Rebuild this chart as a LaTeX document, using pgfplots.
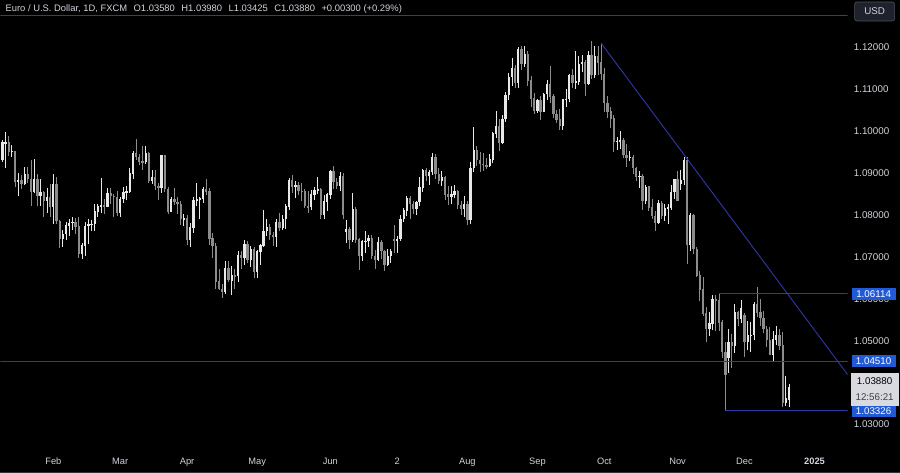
\documentclass[border=0pt]{standalone}
\usepackage{pgfplots}
\usepackage{pgfplotstable}
\usepackage{fontspec}
\setmainfont{Liberation Sans}
\pgfplotsset{compat=1.18}
\definecolor{navy}{RGB}{48,56,165}
\definecolor{tvblue}{RGB}{33,90,215}
\definecolor{txt}{HTML}{D1D4DC}
\definecolor{upc}{HTML}{E8E8E8}
\definecolor{dnc}{HTML}{8C8C8C}
\definecolor{lbox}{HTML}{D8DADF}
\definecolor{usdfill}{HTML}{1E222D}
\definecolor{usdborder}{HTML}{50535E}

\pgfplotstableread{
i O H L C
1 1.0949 1.0965 1.0916 1.0930
2 1.0930 1.0978 1.0925 1.0972
3 1.0972 1.0998 1.0911 1.0972
4 1.0972 1.0988 1.0940 1.0951
5 1.0951 1.0967 1.0937 1.0951
6 1.0951 1.0952 1.0866 1.0878
7 1.0878 1.0900 1.0844 1.0883
8 1.0883 1.0895 1.0862 1.0874
9 1.0874 1.0915 1.0870 1.0897
10 1.0897 1.0915 1.0876 1.0885
11 1.0885 1.0930 1.0822 1.0855
12 1.0855 1.0932 1.0852 1.0884
13 1.0884 1.0897 1.0821 1.0846
14 1.0846 1.0886 1.0822 1.0854
15 1.0854 1.0856 1.0795 1.0834
16 1.0834 1.0864 1.0804 1.0843
17 1.0843 1.0874 1.0795 1.0818
18 1.0818 1.0897 1.0779 1.0873
19 1.0873 1.0889 1.0777 1.0785
20 1.0785 1.0787 1.0722 1.0742
21 1.0742 1.0765 1.0723 1.0755
22 1.0755 1.0783 1.0740 1.0775
23 1.0775 1.0790 1.0749 1.0781
24 1.0781 1.0794 1.0763 1.0783
25 1.0783 1.0793 1.0755 1.0772
26 1.0772 1.0795 1.0697 1.0708
27 1.0708 1.0734 1.0695 1.0727
28 1.0727 1.0783 1.0701 1.0773
29 1.0773 1.0789 1.0730 1.0777
30 1.0777 1.0788 1.0761 1.0778
31 1.0778 1.0825 1.0762 1.0808
32 1.0808 1.0827 1.0794 1.0821
33 1.0821 1.0888 1.0804 1.0822
34 1.0822 1.0838 1.0801 1.0820
35 1.0820 1.0865 1.0818 1.0852
36 1.0852 1.0865 1.0826 1.0845
37 1.0845 1.0849 1.0796 1.0843
38 1.0843 1.0856 1.0796 1.0805
39 1.0805 1.0843 1.0796 1.0838
40 1.0838 1.0866 1.0828 1.0855
41 1.0855 1.0868 1.0836 1.0856
42 1.0856 1.0911 1.0851 1.0899
43 1.0899 1.0951 1.0886 1.0947
44 1.0947 1.0981 1.0931 1.0938
45 1.0938 1.0946 1.0918 1.0927
46 1.0927 1.0963 1.0908 1.0926
47 1.0926 1.0964 1.0922 1.0947
48 1.0947 1.0950 1.0875 1.0881
49 1.0881 1.0907 1.0873 1.0890
50 1.0890 1.0907 1.0858 1.0869
51 1.0869 1.0875 1.0835 1.0865
52 1.0865 1.0943 1.0851 1.0941
53 1.0941 1.0942 1.0855 1.0862
54 1.0862 1.0866 1.0801 1.0807
55 1.0807 1.0843 1.0806 1.0837
56 1.0837 1.0864 1.0823 1.0831
57 1.0831 1.0843 1.0802 1.0826
58 1.0826 1.0833 1.0776 1.0790
59 1.0790 1.0803 1.0773 1.0791
60 1.0791 1.0800 1.0728 1.0741
61 1.0741 1.0781 1.0724 1.0770
62 1.0770 1.0842 1.0757 1.0835
63 1.0835 1.0876 1.0822 1.0837
64 1.0837 1.0842 1.0791 1.0839
65 1.0839 1.0866 1.0828 1.0860
66 1.0860 1.0885 1.0846 1.0856
67 1.0856 1.0864 1.0728 1.0744
68 1.0744 1.0756 1.0698 1.0726
69 1.0726 1.0732 1.0623 1.0641
70 1.0641 1.0672 1.0621 1.0623
71 1.0623 1.0634 1.0601 1.0617
72 1.0617 1.0690 1.0612 1.0672
73 1.0672 1.0690 1.0640 1.0644
74 1.0644 1.0678 1.0610 1.0655
75 1.0655 1.0670 1.0624 1.0654
76 1.0654 1.0713 1.0639 1.0703
77 1.0703 1.0715 1.0671 1.0697
78 1.0697 1.0740 1.0680 1.0731
79 1.0731 1.0737 1.0685 1.0692
80 1.0692 1.0726 1.0676 1.0719
81 1.0719 1.0723 1.0650 1.0665
82 1.0665 1.0716 1.0650 1.0713
83 1.0713 1.0731 1.0680 1.0727
84 1.0727 1.0812 1.0724 1.0761
85 1.0761 1.0790 1.0750 1.0771
86 1.0771 1.0779 1.0739 1.0752
87 1.0752 1.0758 1.0725 1.0748
88 1.0748 1.0790 1.0724 1.0783
89 1.0783 1.0804 1.0761 1.0770
90 1.0770 1.0800 1.0763 1.0790
91 1.0790 1.0825 1.0766 1.0820
92 1.0820 1.0887 1.0812 1.0882
93 1.0882 1.0895 1.0853 1.0866
94 1.0866 1.0880 1.0840 1.0870
95 1.0870 1.0879 1.0847 1.0857
96 1.0857 1.0875 1.0832 1.0856
97 1.0856 1.0862 1.0816 1.0821
98 1.0821 1.0857 1.0804 1.0818
99 1.0818 1.0859 1.0811 1.0848
100 1.0848 1.0866 1.0835 1.0858
101 1.0858 1.0889 1.0849 1.0860
102 1.0860 1.0865 1.0790 1.0801
103 1.0801 1.0847 1.0789 1.0832
104 1.0832 1.0852 1.0808 1.0848
105 1.0848 1.0907 1.0838 1.0903
106 1.0903 1.0916 1.0862 1.0878
107 1.0878 1.0888 1.0861 1.0869
108 1.0869 1.0902 1.0857 1.0892
109 1.0892 1.0900 1.0791 1.0801
110 1.0760 1.0787 1.0732 1.0765
111 1.0765 1.0770 1.0718 1.0740
112 1.0740 1.0852 1.0735 1.0813
113 1.0813 1.0818 1.0734 1.0741
114 1.0741 1.0745 1.0668 1.0703
115 1.0703 1.0741 1.0690 1.0738
116 1.0738 1.0762 1.0710 1.0738
117 1.0738 1.0752 1.0723 1.0745
118 1.0745 1.0753 1.0695 1.0702
119 1.0702 1.0716 1.0671 1.0693
120 1.0693 1.0747 1.0690 1.0734
121 1.0734 1.0740 1.0695 1.0714
122 1.0714 1.0717 1.0667 1.0681
123 1.0681 1.0718 1.0677 1.0702
124 1.0702 1.0719 1.0686 1.0713
125 1.0742 1.0776 1.0709 1.0739
126 1.0739 1.0750 1.0709 1.0742
127 1.0742 1.0799 1.0737 1.0790
128 1.0790 1.0817 1.0782 1.0810
129 1.0810 1.0845 1.0797 1.0840
130 1.0840 1.0845 1.0790 1.0826
131 1.0826 1.0833 1.0802 1.0815
132 1.0815 1.0832 1.0800 1.0830
133 1.0830 1.0889 1.0822 1.0865
134 1.0865 1.0910 1.0855 1.0907
135 1.0907 1.0911 1.0880 1.0892
136 1.0892 1.0906 1.0872 1.0902
137 1.0902 1.0948 1.0895 1.0938
138 1.0938 1.0946 1.0885 1.0897
139 1.0897 1.0911 1.0873 1.0881
140 1.0881 1.0904 1.0869 1.0890
141 1.0890 1.0893 1.0836 1.0848
142 1.0848 1.0868 1.0824 1.0842
143 1.0842 1.0868 1.0826 1.0848
144 1.0848 1.0871 1.0840 1.0857
145 1.0857 1.0858 1.0814 1.0823
146 1.0823 1.0834 1.0800 1.0815
147 1.0815 1.0844 1.0796 1.0825
148 1.0825 1.0832 1.0776 1.0789
149 1.0789 1.0926 1.0779 1.0911
150 1.0911 1.1009 1.0901 1.0955
151 1.0955 1.0965 1.0917 1.0930
152 1.0930 1.0950 1.0902 1.0921
153 1.0921 1.0947 1.0904 1.0919
154 1.0919 1.0935 1.0910 1.0916
155 1.0916 1.0944 1.0915 1.0932
156 1.0932 1.0998 1.0924 1.0994
157 1.0994 1.1048 1.0982 1.1012
158 1.1012 1.1029 1.0951 1.0971
159 1.0971 1.1038 1.0968 1.1028
160 1.1028 1.1092 1.1022 1.1085
161 1.1085 1.1137 1.1074 1.1128
162 1.1128 1.1174 1.1106 1.1150
163 1.1150 1.1156 1.1103 1.1115
164 1.1115 1.1201 1.1102 1.1194
165 1.1194 1.1202 1.1146 1.1161
166 1.1161 1.1202 1.1153 1.1183
167 1.1183 1.1190 1.1107 1.1120
168 1.1120 1.1131 1.1057 1.1077
169 1.1077 1.1090 1.1040 1.1048
170 1.1048 1.1075 1.1043 1.1072
171 1.1072 1.1083 1.1026 1.1045
172 1.1045 1.1090 1.1044 1.1088
173 1.1088 1.1121 1.1074 1.1111
174 1.1111 1.1155 1.1066 1.1082
175 1.1082 1.1087 1.1030 1.1040
176 1.1040 1.1050 1.1018 1.1027
177 1.1027 1.1053 1.1002 1.1011
178 1.1011 1.1076 1.1002 1.1075
179 1.1075 1.1101 1.1058 1.1076
180 1.1076 1.1136 1.1070 1.1132
181 1.1132 1.1147 1.1102 1.1115
182 1.1115 1.1190 1.1100 1.1118
183 1.1118 1.1179 1.1110 1.1160
184 1.1160 1.1180 1.1140 1.1164
185 1.1164 1.1168 1.1083 1.1113
186 1.1113 1.1190 1.1109 1.1180
187 1.1180 1.1214 1.1123 1.1134
188 1.1134 1.1203 1.1125 1.1177
189 1.1177 1.1202 1.1133 1.1163
190 1.1163 1.1209 1.1121 1.1135
191 1.1135 1.1151 1.1044 1.1066
192 1.1066 1.1083 1.1031 1.1046
193 1.1046 1.1058 1.1007 1.1030
194 1.1030 1.1039 1.0950 1.0975
195 1.0975 1.0985 1.0955 1.0976
196 1.0976 1.0999 1.0957 1.0978
197 1.0978 1.0982 1.0936 1.0942
198 1.0942 1.0970 1.0915 1.0937
199 1.0937 1.0952 1.0928 1.0938
200 1.0938 1.0943 1.0898 1.0911
201 1.0911 1.0915 1.0880 1.0891
202 1.0891 1.0905 1.0865 1.0893
203 1.0893 1.0898 1.0811 1.0833
204 1.0833 1.0871 1.0825 1.0867
205 1.0867 1.0868 1.0810 1.0817
206 1.0817 1.0838 1.0791 1.0797
207 1.0797 1.0808 1.0761 1.0781
208 1.0781 1.0836 1.0777 1.0828
209 1.0828 1.0834 1.0791 1.0797
210 1.0797 1.0826 1.0786 1.0815
211 1.0815 1.0827 1.0779 1.0817
212 1.0817 1.0870 1.0811 1.0855
213 1.0855 1.0885 1.0838 1.0884
214 1.0884 1.0905 1.0832 1.0834
215 1.0875 1.0906 1.0860 1.0883
216 1.0883 1.0937 1.0870 1.0931
217 1.0931 1.0937 1.0682 1.0729
218 1.0729 1.0805 1.0714 1.0800
219 1.0800 1.0801 1.0707 1.0718
220 1.0718 1.0724 1.0652 1.0655
221 1.0655 1.0667 1.0595 1.0622
222 1.0622 1.0653 1.0560 1.0565
223 1.0565 1.0580 1.0497 1.0529
224 1.0529 1.0568 1.0510 1.0541
225 1.0541 1.0609 1.0525 1.0598
226 1.0598 1.0609 1.0524 1.0597
227 1.0597 1.0611 1.0522 1.0543
228 1.0543 1.0549 1.0459 1.0473
229 1.0473 1.0497 1.0333 1.0418
230 1.0460 1.0528 1.0423 1.0496
231 1.0496 1.0515 1.0436 1.0489
232 1.0489 1.0587 1.0470 1.0568
233 1.0568 1.0571 1.0534 1.0552
234 1.0552 1.0596 1.0542 1.0577
235 1.0560 1.0566 1.0460 1.0498
236 1.0498 1.0546 1.0479 1.0512
237 1.0512 1.0544 1.0472 1.0513
238 1.0513 1.0593 1.0501 1.0587
239 1.0587 1.0629 1.0557 1.0567
240 1.0567 1.0600 1.0535 1.0554
241 1.0554 1.0572 1.0518 1.0528
242 1.0528 1.0534 1.0485 1.0502
243 1.0502 1.0532 1.0465 1.0467
244 1.0467 1.0522 1.0452 1.0503
245 1.0503 1.0535 1.0490 1.0512
246 1.0512 1.0527 1.0478 1.0489
247 1.0489 1.0520 1.0343 1.0351
248 1.0351 1.0416 1.0344 1.0362
249 1.0358 1.0398 1.03425 1.0388
}\eurusd

\begin{document}
\begin{tikzpicture}[x=1pt,y=1pt]
\fill[black] (0,0) rectangle (900,473);
\begin{axis}[
  at={(0pt,30pt)}, anchor=south west,
  scale only axis, width=848pt, height=443pt,
  xmin=1.38, xmax=267.4, ymin=1.02571, ymax=1.13119,
  axis line style={draw=none}, major tick length=0pt, tick style={draw=none},
  xtick={18,39,60,82,105,126,148,170,191,214,235,257},
  xticklabels={Feb,Mar,Apr,May,Jun,2,Aug,Sep,Oct,Nov,Dec,\textbf{2025}},
  xticklabel style={anchor=base, yshift=-22pt, text=txt, font=\fontsize{9.3}{10}\selectfont},
  ytick={1.03,1.04,1.05,1.06,1.07,1.08,1.09,1.10,1.11,1.12},
  yticklabel pos=right,
  yticklabel style={anchor=west, xshift=6pt, inner sep=0pt, text=txt, font=\fontsize{9.8}{10}\selectfont,
    /pgf/number format/.cd, fixed, fixed zerofill, precision=5, assume math mode=true},
  clip=true,
]
% wicks
\addplot[forget plot, draw=none, mark=none,
  restrict expr to domain={\thisrow{C}-\thisrow{O}}{0:1},
  error bars/.cd, y dir=both, y explicit, error mark=none,
  error bar style={upc, line width=0.9pt}]
  table[x=i, y expr={(\thisrow{H}+\thisrow{L})/2}, y error expr={(\thisrow{H}-\thisrow{L})/2}] {\eurusd};
\addplot[forget plot, draw=none, mark=none,
  restrict expr to domain={\thisrow{C}-\thisrow{O}}{-1:-0.000001},
  error bars/.cd, y dir=both, y explicit, error mark=none,
  error bar style={dnc, line width=0.9pt}]
  table[x=i, y expr={(\thisrow{H}+\thisrow{L})/2}, y error expr={(\thisrow{H}-\thisrow{L})/2}] {\eurusd};
% bodies
\addplot[forget plot, draw=none, mark=none,
  restrict expr to domain={\thisrow{C}-\thisrow{O}}{0:1},
  error bars/.cd, y dir=both, y explicit, error mark=none,
  error bar style={upc, line width=2.3pt}]
  table[x=i, y expr={(\thisrow{O}+\thisrow{C})/2}, y error expr={abs(\thisrow{C}-\thisrow{O})/2+0.00005}] {\eurusd};
\addplot[forget plot, draw=none, mark=none,
  restrict expr to domain={\thisrow{C}-\thisrow{O}}{-1:-0.000001},
  error bars/.cd, y dir=both, y explicit, error mark=none,
  error bar style={dnc, line width=2.3pt}]
  table[x=i, y expr={(\thisrow{O}+\thisrow{C})/2}, y error expr={abs(\thisrow{C}-\thisrow{O})/2+0.00005}] {\eurusd};
% drawings
\addplot[navy, line width=0.9pt] coordinates {(190,1.1209) (267.4,1.0419)};
\addplot[navy, line width=0.9pt] coordinates {(1.38,1.0451) (267.4,1.0451)};
\addplot[navy, line width=0.9pt] coordinates {(227,1.06114) (267.4,1.06114)};
\addplot[navy, line width=0.9pt] coordinates {(229,1.03326) (267.4,1.03326)};
\addplot[navy, line width=0.9pt] coordinates {(1.38,1.12762) (267.4,1.12762)};
\end{axis}
% price labels
\tikzset{pl/.style={fill=tvblue, text=white, minimum width=44pt, minimum height=12pt, inner sep=0pt, font=\fontsize{9.8}{10}\selectfont}}
\node[pl] at (874,178.8) {1.06114};
\node[pl] at (874,111.4) {1.04510};
\node[pl] at (874,61.7) {1.03326};
\fill[lbox] (851,67) rectangle (899,100);
\node[text=black, inner sep=0pt, font=\fontsize{9.8}{10}\selectfont] at (875,91.5) {1.03880};
\node[text=black!75, inner sep=0pt, font=\fontsize{9.8}{10}\selectfont] at (875,75.5) {12:56:21};
\draw[rounded corners=2.5pt, fill=usdfill, draw=usdborder, line width=0.6pt] (855,452) rectangle (895,471);
\node[text=txt, inner sep=0pt, font=\fontsize{9.8}{10}\selectfont] at (875,461.5) {USD};
\node[anchor=base west, text=txt, inner sep=0pt, font=\fontsize{9.4}{10}\selectfont] at (5,461)
  {Euro / U.S. Dollar, 1D, FXCM\hspace{6.5pt}O1.03580\hspace{6.5pt}H1.03980\hspace{6.5pt}L1.03425\hspace{6.5pt}C1.03880\hspace{6.5pt}+0.00300 (+0.29\%)};
\draw[black!80!white, line width=0.8pt] (0,0.5) -- (900,0.5);
\end{tikzpicture}
\end{document}
